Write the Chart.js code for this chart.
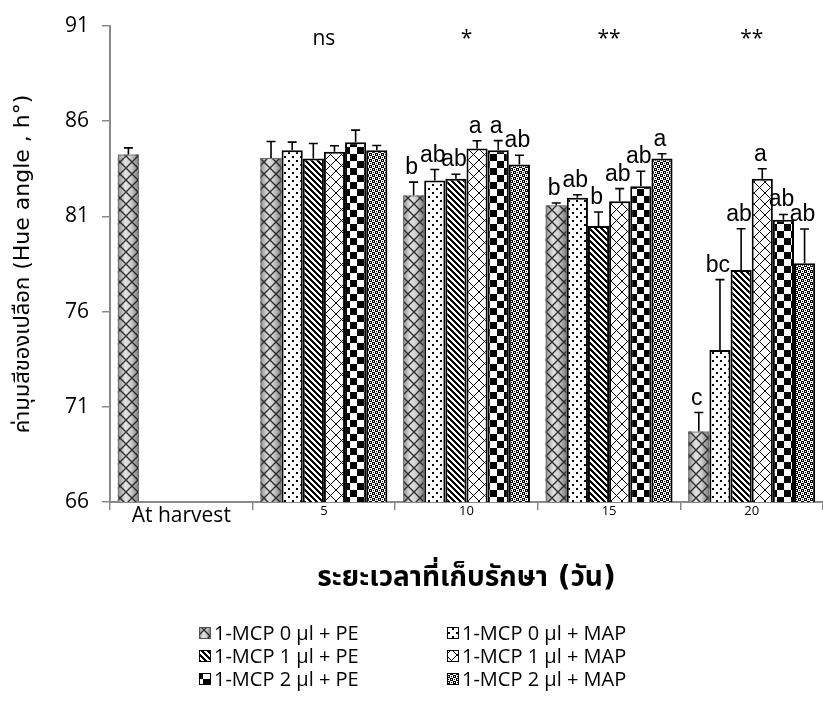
<!DOCTYPE html>
<html>
<head>
    <meta charset="utf-8">
    <title>Hue angle</title>
    <style>
        body { margin: 0; background: #fff; }
    </style>
</head>
<body>
    <canvas id="hueChart" width="823" height="704"></canvas>

    <script src="https://cdn.jsdelivr.net/npm/chart.js"></script>
    <script>
        // storage time (days)
        const days = ['At harvest', '5', '10', '15', '20'];
        const seriesNames = [
            '1-MCP 0 µl + PE', '1-MCP 0 µl + MAP',
            '1-MCP 1 µl + PE', '1-MCP 1 µl + MAP',
            '1-MCP 2 µl + PE', '1-MCP 2 µl + MAP'
        ];

        // hue angle means
        const pe0  = [84.25, 84.07, 82.10, 81.58, 69.70];
        const map0 = [null, 84.48, 82.88, 81.98, 73.98];
        const pe1  = [null, 84.04, 82.98, 80.49, 78.18];
        const map1 = [null, 84.39, 84.57, 81.79, 82.98];
        const pe2  = [null, 84.90, 84.48, 82.58, 80.82];
        const map2 = [null, 84.48, 83.72, 84.04, 78.54];

        // standard error (upper whisker only)
        const pe0Err  = [0.35, 0.86, 0.70, 0.12, 1.00];
        const map0Err = [null, 0.42, 0.58, 0.16, 3.70];
        const pe1Err  = [null, 0.79, 0.23, 0.74, 2.17];
        const map1Err = [null, 0.32, 0.40, 0.67, 0.52];
        const pe2Err  = [null, 0.63, 0.50, 0.79, 0.28];
        const map2Err = [null, 0.24, 0.49, 0.25, 1.80];

        // DMRT letters
        const pe0Letters  = ['', '', 'b', 'b', 'c'];
        const map0Letters = ['', '', 'ab', 'ab', 'bc'];
        const pe1Letters  = ['', '', 'ab', 'b', 'ab'];
        const map1Letters = ['', '', 'a', 'ab', 'a'];
        const pe2Letters  = ['', '', 'a', 'ab', 'ab'];
        const map2Letters = ['', '', 'ab', 'a', 'ab'];

        const significance = ['', 'ns', '*', '**', '**'];

        const values = [pe0, map0, pe1, map1, pe2, map2];
        const errors = [pe0Err, map0Err, pe1Err, map1Err, pe2Err, map2Err];
        const letters = [pe0Letters, map0Letters, pe1Letters, map1Letters, pe2Letters, map2Letters];

        const FONT = '"Open Sans", "Liberation Sans", sans-serif';
        const THAI = '"DejaVu Sans", "Noto Sans Thai", "Loma", "Garuda", sans-serif';

        // build a repeating pattern from a per-pixel rule
        function pixelPattern(size, isBlack, bg) {
            const c = document.createElement('canvas');
            c.width = size; c.height = size;
            const g = c.getContext('2d');
            if (bg) { g.fillStyle = bg; g.fillRect(0, 0, size, size); }
            g.fillStyle = '#000';
            for (let x = 0; x < size; x++) {
                for (let y = 0; y < size; y++) {
                    if (isBlack(x, y)) g.fillRect(x, y, 1, 1);
                }
            }
            return g.createPattern(c, 'repeat');
        }

        const mod = (a, n) => ((a % n) + n) % n;

        // chain lattice drawn over the grey gradient bar
        const latticeCanvas = document.createElement('canvas');
        latticeCanvas.width = 12; latticeCanvas.height = 12;
        (function () {
            const g = latticeCanvas.getContext('2d');
            g.strokeStyle = 'rgba(30,30,30,0.9)';
            g.lineWidth = 1.4;
            g.beginPath();
            g.moveTo(-1, 5); g.lineTo(6, 12); g.lineTo(13, 5);
            g.moveTo(-1, 7); g.lineTo(6, 0); g.lineTo(13, 7);
            g.stroke();
        })();
        const latticePattern = latticeCanvas.getContext('2d').createPattern(latticeCanvas, 'repeat');

        const patterns = [
            null,
            pixelPattern(8, (x, y) => (x < 2 && y < 2) || (x >= 4 && x < 6 && y >= 4 && y < 6), '#fff'),
            pixelPattern(6, (x, y) => mod(x - y, 6) < 3, '#fff'),
            pixelPattern(11, (x, y) => mod(x + y, 11) === 0 || mod(x - y, 11) === 0, '#fff'),
            pixelPattern(14, (x, y) => (x < 7) === (y < 7), '#fff'),
            pixelPattern(6, (x, y) => (((Math.floor(x / 3) + Math.floor(y / 3)) % 2 === 0) !== (x % 3 === 1 && y % 3 === 1)), '#fff')
        ];

        function greyFill(ctx, x, y, w, h) {
            const grad = ctx.createLinearGradient(x, 0, x + w, 0);
            grad.addColorStop(0, '#8c8c8c');
            grad.addColorStop(0.35, '#e2e2e2');
            grad.addColorStop(0.6, '#d0d0d0');
            grad.addColorStop(1, '#7a7a7a');
            ctx.fillStyle = grad;
            ctx.fillRect(x, y, w, h);
            ctx.fillStyle = latticePattern;
            ctx.fillRect(x, y, w, h);
        }

        const datasets = values.map((data, i) => ({
            label: seriesNames[i],
            data: data,
            backgroundColor: i === 0 ? 'rgba(0,0,0,0)' : patterns[i],
            borderColor: i === 0 ? '#6f6f6f' : '#000',
            borderWidth: i === 0 ? 1 : 2,
            categoryPercentage: 0.89,
            barPercentage: 1.0
        }));

        // grey gradient + lattice for the first series
        const greyBars = {
            id: 'greyBars',
            beforeDatasetDraw(chart, args) {
                if (args.index !== 0) return;
                const ctx = chart.ctx;
                const bottom = chart.chartArea.bottom;
                args.meta.data.forEach((el, j) => {
                    if (values[0][j] == null) return;
                    const x = el.x - el.width / 2;
                    ctx.save();
                    greyFill(ctx, x, el.y, el.width, Math.min(el.base, bottom) - el.y);
                    ctx.restore();
                });
            }
        };

        // error whiskers, letters, significance marks and legend
        const annotations = {
            id: 'annotations',
            afterDatasetsDraw(chart) {
                const ctx = chart.ctx;
                const yScale = chart.scales.y;
                const xScale = chart.scales.x;
                ctx.save();
                values.forEach((data, i) => {
                    const meta = chart.getDatasetMeta(i);
                    data.forEach((v, j) => {
                        if (v == null) return;
                        const el = meta.data[j];
                        const top = yScale.getPixelForValue(v + errors[i][j]);
                        ctx.strokeStyle = '#000';
                        ctx.lineWidth = 1.6;
                        ctx.beginPath();
                        ctx.moveTo(el.x, el.y);
                        ctx.lineTo(el.x, top);
                        ctx.moveTo(el.x - 4.5, top);
                        ctx.lineTo(el.x + 4.5, top);
                        ctx.stroke();

                        const txt = letters[i][j];
                        if (txt) {
                            ctx.fillStyle = '#000';
                            ctx.font = '23px "Liberation Sans", Arial, sans-serif';
                            ctx.textAlign = 'center';
                            ctx.textBaseline = 'alphabetic';
                            ctx.fillText(txt, el.x - 2, top - 8);
                        }
                    });
                });

                ctx.font = '21px ' + FONT;
                ctx.fillStyle = '#000';
                ctx.textAlign = 'center';
                ctx.textBaseline = 'middle';
                significance.forEach((s, j) => {
                    if (!s) return;
                    ctx.fillText(s, xScale.getPixelForValue(j), chart.chartArea.top + 13);
                });
                ctx.restore();
            },
            afterDraw(chart) {
                const ctx = chart.ctx;
                const colX = [199, 447];
                const rowY = [633, 656, 679];
                ctx.save();
                ctx.font = '20px ' + FONT;
                ctx.textBaseline = 'middle';
                ctx.textAlign = 'left';
                seriesNames.forEach((name, i) => {
                    const x = colX[i % 2];
                    const y = rowY[Math.floor(i / 2)];
                    if (i === 0) {
                        greyFill(ctx, x, y - 6, 12, 12);
                    } else {
                        ctx.fillStyle = patterns[i];
                        ctx.fillRect(x, y - 6, 12, 12);
                    }
                    ctx.strokeStyle = i === 0 ? '#555' : '#000';
                    ctx.lineWidth = 1;
                    ctx.strokeRect(x + 0.5, y - 5.5, 11, 11);
                    ctx.fillStyle = '#000';
                    ctx.fillText(name, x + 15, y + 1);
                });
                ctx.restore();
            }
        };

        new Chart(document.getElementById('hueChart'), {
            type: 'bar',
            data: { labels: days, datasets: datasets },
            plugins: [greyBars, annotations],
            options: {
                responsive: false,
                animation: false,
                layout: { padding: { top: 26, right: 0, bottom: 102, left: 0 } },
                plugins: {
                    legend: { display: false },
                    tooltip: { enabled: false }
                },
                scales: {
                    x: {
                        grid: { drawOnChartArea: false, offset: true, tickLength: 8, color: '#8a8a8a', lineWidth: 1.5 },
                        border: { color: '#8a8a8a', width: 2 },
                        ticks: {
                            color: '#000',
                            padding: -7,
                            font: ctx => ctx.index === 0 ? { family: FONT, size: 21 } : { family: FONT, size: 13 }
                        },
                        title: {
                            display: true,
                            text: 'ระยะเวลาที่เก็บรักษา (วัน)',
                            color: '#000',
                            font: { family: THAI, size: 28, weight: 'bold' },
                            padding: { top: 10, bottom: 6 }
                        },
                        afterFit(scale) { scale.height = 100; }
                    },
                    y: {
                        min: 66,
                        max: 91,
                        ticks: { stepSize: 5, color: '#000', padding: 13, font: { family: FONT, size: 21 } },
                        grid: { drawOnChartArea: false, tickLength: 8, color: '#8a8a8a', lineWidth: 1.5 },
                        border: { color: '#8a8a8a', width: 2 },
                        title: {
                            display: true,
                            text: 'ค่ามุมสีของเปลือก (Hue angle , h°)',
                            color: '#000',
                            font: { family: THAI, size: 22, weight: 'normal' },
                            padding: { top: 10, bottom: 0 }
                        },
                        afterFit(scale) { scale.width = 110; }
                    }
                }
            }
        });
    </script>
</body>
</html>
